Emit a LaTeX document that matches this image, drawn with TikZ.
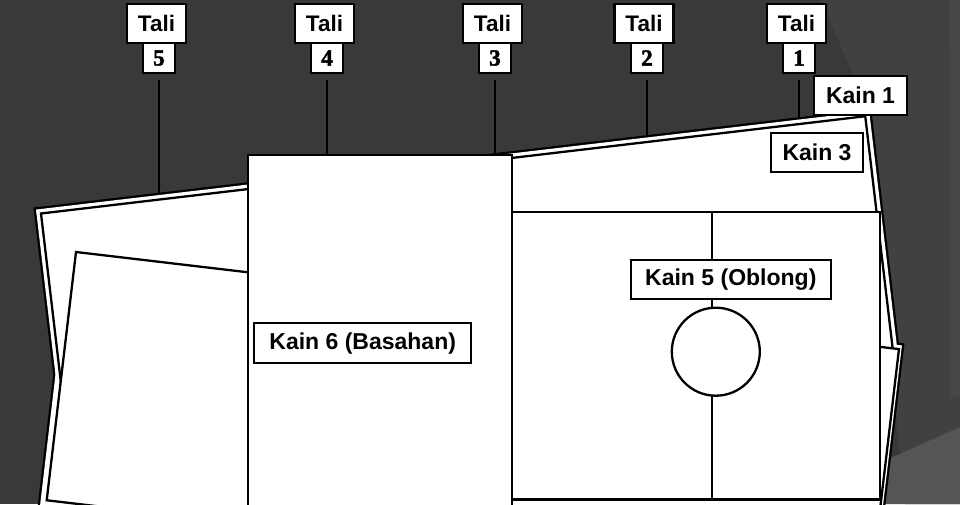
\documentclass[tikz,border=0pt]{standalone}
\usepackage{fontspec}
\setmainfont{Liberation Sans}
\newfontfamily\numfam[BoldFeatures={FakeBold=2}]{Liberation Serif}
\definecolor{bgdark}{HTML}{393939}
\definecolor{bgmid}{HTML}{414141}
\definecolor{bgstrip}{HTML}{474747}
\definecolor{bgbottom}{HTML}{555555}
\begin{document}
\begin{tikzpicture}[x=1pt,y=-1pt,
  sheet/.style={draw=black, fill=white, line width=2.3pt, line join=miter},
  halo/.style={draw=black, fill=white, line width=4.6pt, line join=miter},
  lbl/.style={draw=black, fill=white, line width=2.3pt, inner sep=0pt,
    font=\fontsize{23}{23}\selectfont\bfseries},
  talibox/.style={lbl, minimum width=59pt, minimum height=39pt,
    font=\fontsize{22.5}{22.5}\selectfont\bfseries},
  numbox/.style={draw=black, fill=white, line width=2.3pt, inner sep=0pt,
    minimum width=32pt, minimum height=30pt,
    font=\fontsize{23}{23}\selectfont\numfam\bfseries},
  tie/.style={draw=black, line width=2.3pt, shorten <=6pt},
  ]
\useasboundingbox (0,0) rectangle (960,504);
\begin{scope}
\clip (0,0) rectangle (960,504);
% background
\fill[bgdark] (0,0) rectangle (960,504);
\fill[bgmid] (820,0) .. controls (835,30) and (848,65) .. (866,105) -- (905,504) -- (960,504) -- (960,0) -- cycle;
\fill[bgstrip] (949,0) -- (960,0) -- (960,395) -- (951,398) -- cycle;
\fill[bgbottom] (884,461) -- (960,427) -- (960,504) -- (878,504) -- cycle;

% Tali labels
\node[talibox] (tali5) at (156.5,23.5) {Tali};
\node[talibox] (tali4) at (324.5,23.5) {Tali};
\node[talibox] (tali3) at (492.5,23.5) {Tali};
\node[talibox] (tali2) at (644,23.5) {Tali};
\node[talibox] (tali1) at (796.5,23.5) {Tali};
\node[numbox] (n5) at (159,58) {5};
\node[numbox] (n4) at (327,58) {4};
\node[numbox] (n3) at (495,58) {3};
\node[numbox] (n2) at (647,58) {2};
\node[numbox] (n1) at (799,58) {1};
\coordinate (e5) at (159,198);
\coordinate (e4) at (327,162);
\coordinate (e3) at (495,162);
\coordinate (e2) at (647,142);
\coordinate (e1) at (799,124);
\draw[tie] (n5.south) -- (e5);
\draw[tie] (n4.south) -- (e4);
\draw[tie] (n3.south) -- (e3);
\draw[tie] (n2.south) -- (e2);
\draw[tie] (n1.south) -- (e1);

% halo outlines (union)
\begin{scope}[shift={(41,213.5)}, rotate=6.73]
  \draw[halo] (-4.5,-4.5) rectangle (834.5,238);
\end{scope}
\begin{scope}[shift={(76,252)}, rotate=-6.73]
  \draw[halo] (-6,-4) rectangle (831.2,256);
\end{scope}
\begin{scope}[shift={(41,213.5)}, rotate=6.73]
  \fill[white] (-4.5,-4.5) rectangle (834.5,238);
\end{scope}
\begin{scope}[shift={(76,252)}, rotate=-6.73]
  \fill[white] (-6,-4) rectangle (831.2,256);
\end{scope}

% sheet A (Kain 1 / Kain 3)
\begin{scope}[shift={(41,213.5)}, rotate=6.73]
  \draw[sheet] (0,0) rectangle (830,238);
\end{scope}
% sheet C
\begin{scope}[shift={(76,252)}, rotate=-6.73]
  \draw[sheet] (0,0) rectangle (828.7,250);
\end{scope}

% Kain 6 (Basahan)
\draw[sheet] (248,155) rectangle (512,515);
% Kain 5 (Oblong)
\draw[sheet] (512,212) rectangle (880,499.5);
\coordinate (k5top) at (711.7,212);
\coordinate (k5bot) at (711.7,499.5);
\draw[line width=2.3pt] (k5top) -- (k5bot);
\node[draw=black, fill=white, line width=2.3pt, circle, minimum size=88pt, inner sep=0pt] (ball) at (715.8,351.7) {};

% labels
\node[lbl, minimum width=93pt, minimum height=39pt] (kain1) at (860.5,95.5) {Kain 1};
\node[lbl, minimum width=92pt, minimum height=39pt] (kain3) at (817,152.5) {Kain 3};
\node[lbl, minimum width=217pt, minimum height=40pt] (kain6) at (362.7,343.3) {Kain 6 (Basahan)};
\node[lbl, minimum width=200pt, minimum height=39pt] (kain5) at (730.8,279.5) {Kain 5 (Oblong)};
\end{scope}
\end{tikzpicture}
\end{document}
